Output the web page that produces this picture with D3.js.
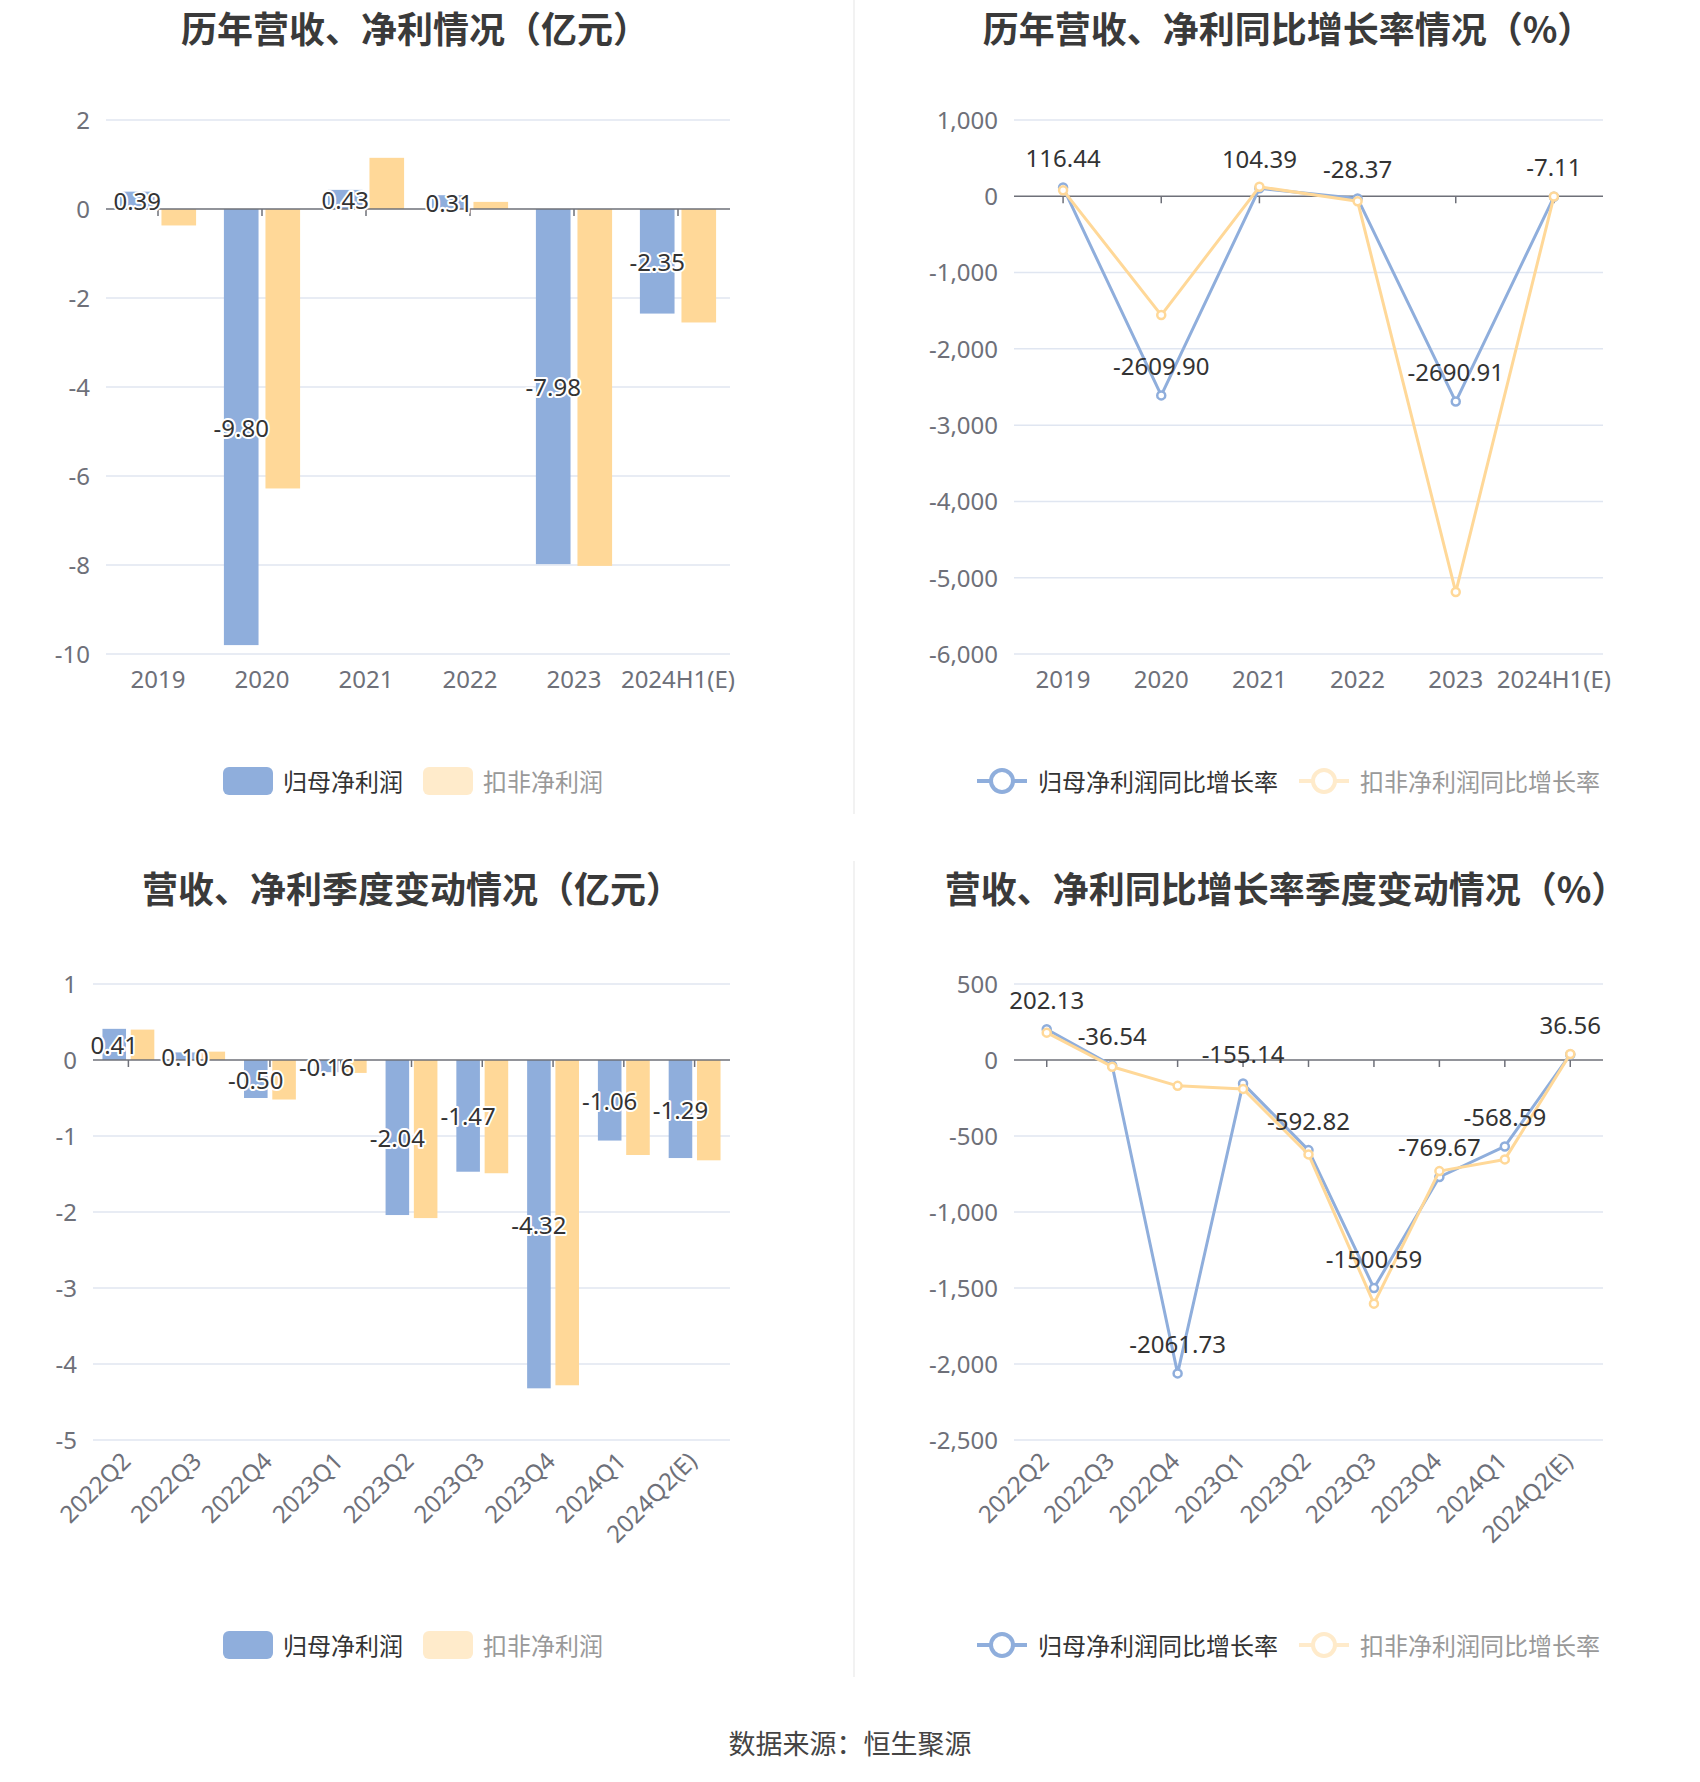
<!DOCTYPE html>
<html><head><meta charset="utf-8">
<script src="https://cdn.jsdelivr.net/npm/d3@7"></script>
<style>
body{margin:0;background:#fff}
svg{display:block}
text{font-family:"Noto Sans","Noto Sans CJK SC",sans-serif}
</style>
</head><body>
<svg id="c" width="1700" height="1782"></svg>
<script>
// ---------- data ----------
const years = ["2019","2020","2021","2022","2023","2024H1(E)"];
const annualParent   = [0.39, -9.80, 0.43, 0.31, -7.98, -2.35];
const annualDeducted = [-0.37, -6.28, 1.15, 0.16, -8.02, -2.55];
const annualParentYoY   = [116.44, -2609.90, 104.39, -28.37, -2690.91, -7.11];
const annualDeductedYoY = [80, -1557, 124, -66, -5188, -3];

const quarters = ["2022Q2","2022Q3","2022Q4","2023Q1","2023Q2","2023Q3","2023Q4","2024Q1","2024Q2(E)"];
const quarterParent   = [0.41, 0.10, -0.50, -0.16, -2.04, -1.47, -4.32, -1.06, -1.29];
const quarterDeducted = [0.40, 0.11, -0.52, -0.17, -2.08, -1.49, -4.28, -1.25, -1.32];
const quarterParentYoY   = [202.13, -36.54, -2061.73, -155.14, -592.82, -1500.59, -769.67, -568.59, 36.56];
const quarterDeductedYoY = [180, -44, -170, -190, -621, -1603, -731, -654, 40];

const ticksAnnualBar  = [2, 0, -2, -4, -6, -8, -10];
const ticksAnnualLine = [1000, 0, -1000, -2000, -3000, -4000, -5000, -6000];
const ticksQuarterBar = [1, 0, -1, -2, -3, -4, -5];
const ticksQuarterLine= [500, 0, -500, -1000, -1500, -2000, -2500];

const barSeriesNames  = ["归母净利润", "扣非净利润"];
const lineSeriesNames = ["归母净利润同比增长率", "扣非净利润同比增长率"];
const titles = ["历年营收、净利情况（亿元）", "历年营收、净利同比增长率情况（%）",
                "营收、净利季度变动情况（亿元）", "营收、净利同比增长率季度变动情况（%）"];
const sourceText = "数据来源：恒生聚源";

// ---------- style ----------
const BLUE = "#8FAEDC", ORANGE = "#FFD898";
const BLUE_L = "#8FAEDC", ORANGE_L = "#FFEBCB";
const GRID = "#E0E6F1", AXIS = "#6E7079", LABEL = "#6E7079";
const svg = d3.select("#c");
const fmt = d3.formatLocale({decimal:".", thousands:",", grouping:[3], currency:["",""], minus:"-"}).format(",");

function frame(cfg){
  const x = d3.scaleBand().domain(cfg.cats).range([cfg.x0, cfg.x1]);
  const y = d3.scaleLinear().domain([d3.min(cfg.yTicks), d3.max(cfg.yTicks)]).range([cfg.y1, cfg.y0]);
  const g = svg.append("g");
  g.selectAll("line.grid").data(cfg.yTicks.filter(t => t !== 0)).join("line")
    .attr("x1", cfg.x0).attr("x2", cfg.x1)
    .attr("y1", d => y(d)).attr("y2", d => y(d))
    .attr("stroke", GRID).attr("stroke-width", 1.5);
  const yg = g.append("g").attr("transform", `translate(${cfg.x0},0)`)
    .call(d3.axisLeft(y).tickValues(cfg.yTicks).tickFormat(fmt).tickSize(0).tickPadding(16));
  yg.attr("font-size", null).attr("font-family", null);
  yg.select(".domain").remove();
  yg.selectAll("text").attr("fill", LABEL).style("font-size", "24px").attr("dy", "0.35em");
  if (cfg.rotate) {
    g.selectAll("text.xl").data(cfg.cats).join("text")
      .attr("transform", d => `translate(${x(d) + x.bandwidth()/2 - 3},${cfg.y1 + 16}) rotate(-45)`)
      .attr("text-anchor", "end").attr("dominant-baseline", "central")
      .attr("fill", LABEL).style("font-size", "24px").text(d => d);
  } else {
    g.selectAll("text.xl").data(cfg.cats).join("text")
      .attr("x", d => x(d) + x.bandwidth()/2).attr("y", cfg.y1 + 24)
      .attr("text-anchor", "middle").attr("dominant-baseline", "central")
      .attr("fill", LABEL).style("font-size", "24px").text(d => d);
  }
  svg.append("text").attr("x", cfg.tx).attr("y", cfg.ty)
    .attr("text-anchor", "middle").attr("dominant-baseline", "central")
    .attr("fill", "#3a3a3a").style("font-size", "36px").style("font-weight", "bold")
    .style("font-family", "'Noto Sans CJK SC',sans-serif").text(cfg.title);
  return {x, y, g};
}

function zeroAxis(f, cfg){
  const {x, y} = f;
  const a = svg.append("g");
  a.append("line").attr("x1", cfg.x0).attr("x2", cfg.x1).attr("y1", y(0)).attr("y2", y(0))
    .attr("stroke", AXIS).attr("stroke-width", 1.5);
  a.selectAll("line.tk").data(cfg.cats).join("line")
    .attr("x1", d => x(d) + x.bandwidth()/2).attr("x2", d => x(d) + x.bandwidth()/2)
    .attr("y1", y(0)).attr("y2", y(0) + 7)
    .attr("stroke", AXIS).attr("stroke-width", 1.5);
}

function barChart(cfg){
  const f = frame(cfg);
  const {x, y} = f;
  const bw = x.bandwidth() * 0.333, off = bw * 0.6;
  const series = [{vals: cfg.a, color: BLUE, dx: -off}, {vals: cfg.b, color: ORANGE, dx: off}];
  series.forEach(s => {
    svg.append("g").selectAll("rect").data(cfg.cats).join("rect")
      .attr("x", d => x(d) + x.bandwidth()/2 + s.dx - bw/2)
      .attr("width", bw)
      .attr("y", (d, i) => Math.min(y(0), y(s.vals[i])))
      .attr("height", (d, i) => Math.abs(y(s.vals[i]) - y(0)))
      .attr("fill", s.color);
  });
  zeroAxis(f, cfg);
  svg.append("g").selectAll("text").data(cfg.cats).join("text")
    .attr("x", d => x(d) + x.bandwidth()/2 - off)
    .attr("y", (d, i) => (y(0) + y(cfg.a[i])) / 2)
    .attr("text-anchor", "middle").attr("dominant-baseline", "central")
    .attr("fill", "#333").attr("stroke", "#fff").attr("stroke-width", 4)
    .attr("paint-order", "stroke").attr("stroke-linejoin", "round")
    .style("font-size", "24px")
    .text((d, i) => cfg.a[i].toFixed(2));
  const lg = svg.append("g");
  barSeriesNames.forEach((n, i) => {
    const lx = cfg.lx + i * 200;
    lg.append("rect").attr("x", lx).attr("y", cfg.ly - 14).attr("width", 50).attr("height", 28)
      .attr("rx", 6).attr("fill", i ? ORANGE_L : BLUE_L);
    lg.append("text").attr("x", lx + 60).attr("y", cfg.ly).attr("dominant-baseline", "central")
      .attr("fill", i ? "#999" : "#333").style("font-size", "24px").text(n);
  });
}

function lineChart(cfg){
  const f = frame(cfg);
  const {x, y} = f;
  zeroAxis(f, cfg);
  const cx = d => x(d) + x.bandwidth()/2;
  const series = [{vals: cfg.a, color: BLUE}, {vals: cfg.b, color: ORANGE}];
  series.forEach(s => {
    const line = d3.line().x((d, i) => cx(cfg.cats[i])).y(d => y(d));
    svg.append("path").datum(s.vals).attr("d", line).attr("fill", "none")
      .attr("stroke", s.color).attr("stroke-width", 3).attr("stroke-linejoin", "round");
    svg.append("g").selectAll("circle").data(s.vals).join("circle")
      .attr("cx", (d, i) => cx(cfg.cats[i])).attr("cy", d => y(d)).attr("r", 4)
      .attr("fill", "#fff").attr("stroke", s.color).attr("stroke-width", 2.5);
  });
  svg.append("g").selectAll("text").data(cfg.a).join("text")
    .attr("x", (d, i) => cx(cfg.cats[i])).attr("y", d => y(d) - 30)
    .attr("text-anchor", "middle").attr("dominant-baseline", "central")
    .attr("fill", "#333").style("font-size", "24px")
    .text(d => d.toFixed(2));
  const lg = svg.append("g");
  lineSeriesNames.forEach((n, i) => {
    const lx = cfg.lx + i * 322;
    const col = i ? ORANGE_L : BLUE_L;
    lg.append("line").attr("x1", lx).attr("x2", lx + 50).attr("y1", cfg.ly).attr("y2", cfg.ly)
      .attr("stroke", col).attr("stroke-width", 4);
    lg.append("circle").attr("cx", lx + 25).attr("cy", cfg.ly).attr("r", 11)
      .attr("fill", "#fff").attr("stroke", col).attr("stroke-width", 4);
    lg.append("text").attr("x", lx + 61).attr("y", cfg.ly).attr("dominant-baseline", "central")
      .attr("fill", i ? "#999" : "#333").style("font-size", "24px").text(n);
  });
}

svg.append("line").attr("x1", 854).attr("x2", 854).attr("y1", 0).attr("y2", 814).attr("stroke", "#eee").attr("stroke-width", 1.5);
svg.append("line").attr("x1", 854).attr("x2", 854).attr("y1", 861).attr("y2", 1677).attr("stroke", "#eee").attr("stroke-width", 1.5);

barChart({cats: years, a: annualParent, b: annualDeducted, yTicks: ticksAnnualBar,
  x0: 106, x1: 730, y0: 120, y1: 654, title: titles[0], tx: 415, ty: 27, lx: 223, ly: 781});
lineChart({cats: years, a: annualParentYoY, b: annualDeductedYoY, yTicks: ticksAnnualLine,
  x0: 1014, x1: 1603, y0: 120, y1: 654, title: titles[1], tx: 1288, ty: 27, lx: 977, ly: 781});
barChart({cats: quarters, a: quarterParent, b: quarterDeducted, yTicks: ticksQuarterBar, rotate: true,
  x0: 93, x1: 730, y0: 984, y1: 1440, title: titles[2], tx: 412, ty: 887, lx: 223, ly: 1645});
lineChart({cats: quarters, a: quarterParentYoY, b: quarterDeductedYoY, yTicks: ticksQuarterLine, rotate: true,
  x0: 1014, x1: 1603, y0: 984, y1: 1440, title: titles[3], tx: 1286, ty: 887, lx: 977, ly: 1645});

svg.append("text").attr("x", 850).attr("y", 1742).attr("text-anchor", "middle").attr("dominant-baseline", "central")
  .attr("fill", "#444").style("font-size", "27px").style("font-family", "'Noto Sans CJK SC',sans-serif").text(sourceText);
</script>
</body></html>
